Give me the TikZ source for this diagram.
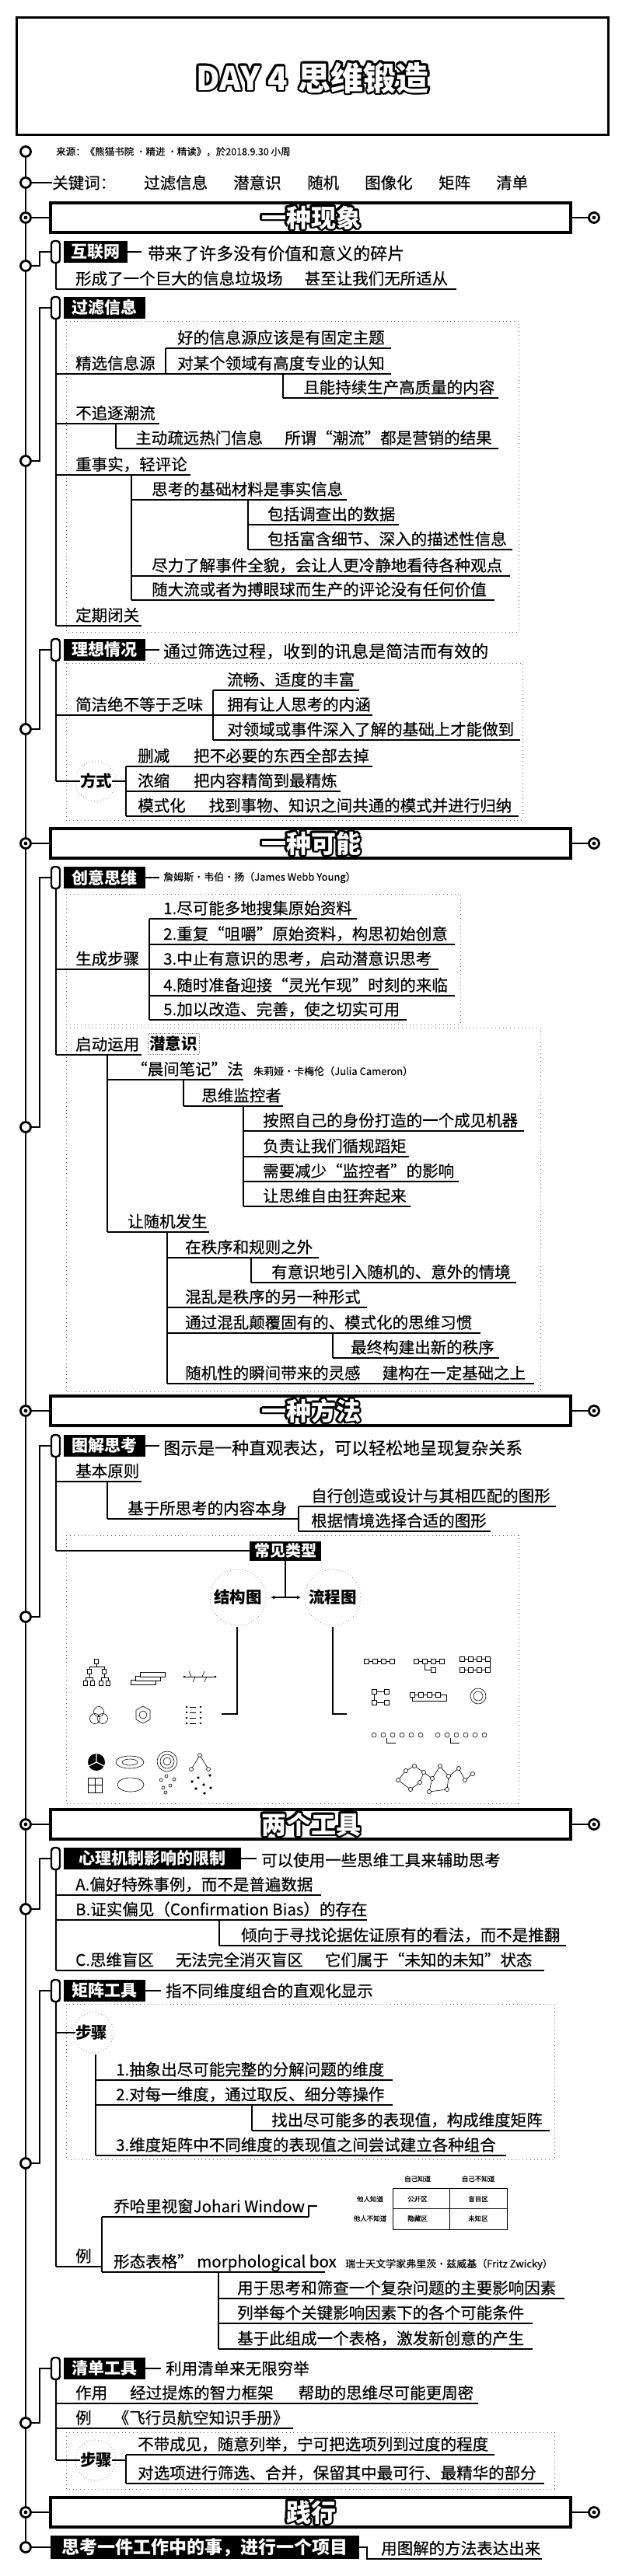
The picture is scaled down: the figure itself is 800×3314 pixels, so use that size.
\documentclass[tikz,border=0pt]{standalone}
\usepackage{fontspec}
\setmainfont{Noto Sans CJK SC}[UprightFeatures={FakeBold=0.35}]
\usetikzlibrary{arrows.meta}
\newcommand\myfs[1]{\fontsize{#1}{#1}\selectfont}
\tikzset{
 txt/.style={anchor=base west,inner sep=0pt,font=\myfs{20.5}},
 btxt/.style={anchor=west,inner sep=0pt,font=\myfs{20.5}\bfseries},
 ln/.style={line width=1.8pt},
 hw/.style={anchor=west,inner sep=0pt,font=\myfs{22}},
 small/.style={anchor=west,inner sep=0pt,font=\myfs{12.5}},
 tiny/.style={inner sep=0pt,font=\myfs{8.5}},
 topic/.style={fill=black,text=white,font=\myfs{21}\bfseries,inner sep=0pt,minimum height=28pt,anchor=west},
 capsule/.style={draw,line width=2.4pt,rounded corners=4pt},
 ring/.style={draw,line width=2.8pt,fill=white,circle,minimum size=13pt,inner sep=0pt},
 bnd/.style={draw=black!55,line width=0.8pt,dash pattern=on 0.8pt off 4pt},
 dcirc/.style={draw=black!45,line width=0.8pt,dash pattern=on 0.8pt off 3pt},
 ill/.style={line width=0.6pt},
}
\newcommand\ut[6]{\node[txt] (#1) at (#2,#5-6) {#6};\draw[ln] (#3,#5) -- (#4,#5);}
\newcommand\vl[3]{\draw[ln] (#1,#2) -- (#1,#3);}
\newcommand\bubble[5]{\foreach \a in {0,30,...,330}{\node[inner sep=0pt,font=#4,text=black] at ([shift={(\a:2.6pt)}]#2,#3) {#5};}\node[inner sep=0pt,font=#4,text=white] (#1) at (#2,#3) {#5};}
\newcommand\topicbox[4]{\draw[capsule] (66,#2-14) rectangle (77,#2+14);\node[topic,minimum width={#3-82}] (#1) at (82,#2) {#4};}
\newcommand\conn[3]{\draw[ln] (33,#2) -- (51,#2) -- (51,#3) -- (66,#3);\node[ring] (#1) at (33,#2) {};}
\newcommand\header[3]{%
 \draw[line width=3.2pt] (65,#2-19) rectangle (734,#2+19);
 \draw[ln] (33,#2) -- (65,#2); \draw[ln] (734,#2) -- (764,#2);
 \node[ring] (#1L) at (33,#2) {}; \fill (33,#2) circle (2.4pt);
 \node[ring] (#1R) at (764,#2) {}; \fill (764,#2) circle (2.4pt);
 \bubble{#1}{400}{#2}{\myfs{32}\bfseries}{#3}}
\begin{document}
\begin{tikzpicture}[x=1pt,y=-1pt]
\useasboundingbox (0,0) rectangle (800,3314);
\fill[white] (0,0) rectangle (800,3314);
% title
\draw[line width=3pt] (21.5,22) rectangle (782,173);
\bubble{title}{402}{100}{\myfs{42}\bfseries}{DAY 4\hspace{14pt}思维锻造}
% main line
\draw[line width=2.6pt] (33,195) -- (33,3277);
% source
\node[ring] (c0) at (33,195) {};
\node[small] (src) at (72,195) {来源：《熊猫书院 ·精进 ·精读》，於2018.9.30 小周};
% keywords
\node[ring] (c1) at (33,235) {};
\node[anchor=west,inner sep=0pt,font=\myfs{20.5}] (kw) at (67,235) {关键词：};
\draw[ln] (c1.east) -- (kw.west);
\node[anchor=west,inner sep=0pt,font=\myfs{20.5}] (k1) at (185,235) {过滤信息};
\node[anchor=west,inner sep=0pt,font=\myfs{20.5}] (k2) at (300,235) {潜意识};
\node[anchor=west,inner sep=0pt,font=\myfs{20.5}] (k3) at (395,235) {随机};
\node[anchor=west,inner sep=0pt,font=\myfs{20.5}] (k4) at (469,235) {图像化};
\node[anchor=west,inner sep=0pt,font=\myfs{20.5}] (k5) at (564,235) {矩阵};
\node[anchor=west,inner sep=0pt,font=\myfs{20.5}] (k6) at (638,235) {清单};

%================ 一种现象
\header{h1}{280}{一种现象}
% 互联网
\conn{t1c}{342}{324}
\topicbox{t1}{324}{164}{互联网}
\node[hw] (t1n) at (190,326) {带来了许多没有价值和意义的碎片};
\draw[ln] (t1.east) -- (182,324);
\vl{72}{338}{372}
\ut{i1}{97}{72}{587}{372}{形成了一个巨大的信息垃圾场\hspace{28pt}甚至让我们无所适从}
% 过滤信息
\draw[bnd] (85,413) rectangle (667,813);
\conn{t2c}{593}{396}
\topicbox{t2}{396}{187}{过滤信息}
\vl{72}{410}{805}
\ut{a1}{97}{72}{213}{481}{精选信息源}
\vl{213}{448}{481}
\ut{a11}{228}{213}{503}{448}{好的信息源应该是有固定主题}
\ut{a12}{228}{213}{503}{481}{对某个领域有高度专业的认知}
\vl{364}{481}{512}
\ut{a13}{390}{364}{641}{512}{且能持续生产高质量的内容}
\ut{a2}{97}{72}{205}{545}{不追逐潮流}
\vl{149}{545}{577}
\ut{a21}{174}{149}{641}{577}{主动疏远热门信息\hspace{28pt}所谓“潮流”都是营销的结果}
\ut{a3}{97}{72}{245}{611}{重事实，轻评论}
\vl{169}{611}{772}
\ut{a31}{195}{169}{446}{643}{思考的基础材料是事实信息}
\vl{319}{643}{707}
\ut{a311}{344}{319}{513}{675}{包括调查出的数据}
\ut{a312}{344}{319}{659}{707}{包括富含细节、深入的描述性信息}
\ut{a32}{195}{169}{656}{741}{尽力了解事件全貌，会让人更冷静地看待各种观点}
\ut{a33}{195}{169}{636}{772}{随大流或者为搏眼球而生产的评论没有任何价值}
\ut{a4}{97}{72}{182}{805}{定期闭关}
% 理想情况
\draw[bnd] (85,853) rectangle (672,1055);
\conn{t3c}{938}{836}
\topicbox{t3}{836}{187}{理想情况}
\draw[ln] (t3.east) -- (205,836);
\node[hw] (t3n) at (210,838) {通过筛选过程，收到的讯息是简洁而有效的};
\vl{72}{850}{1005}
\ut{b1}{97}{72}{274}{920}{简洁绝不等于乏味}
\vl{274}{888}{952}
\ut{b11}{292}{274}{462}{888}{流畅、适度的丰富}
\ut{b12}{292}{274}{479}{920}{拥有让人思考的内涵}
\ut{b13}{292}{274}{669}{952}{对领域或事件深入了解的基础上才能做到}
\draw[dcirc] (123,1005) circle (26);
\node[btxt] (b2) at (103,1005) {方式};
\draw[ln] (72,1005) -- (b2.west);
\draw[ln] (b2.east) -- (162,1005);
\vl{162}{986}{1050}
\ut{b21}{177}{162}{479}{986}{删减\hspace{31pt}把不必要的东西全部去掉}
\ut{b22}{177}{162}{438}{1018}{浓缩\hspace{31pt}把内容精简到最精炼}
\ut{b23}{177}{162}{667}{1050}{模式化\hspace{30pt}找到事物、知识之间共通的模式并进行归纳}

%================ 一种可能
\header{h2}{1085}{一种可能}
\draw[bnd] (85,1150) rectangle (592,1318);
\draw[bnd] (85,1322) rectangle (695,1790);
\conn{t4c}{1450}{1129}
\topicbox{t4}{1129}{187}{创意思维}
\draw[ln] (t4.east) -- (205,1129);
\node[small,font=\myfs{13}] (t4n) at (210,1129) {詹姆斯·韦伯·扬（James Webb Young）};
\vl{72}{1143}{1357}
\ut{c1}{97}{72}{192}{1247}{生成步骤}
\vl{192}{1182}{1312}
\ut{c11}{210}{192}{459}{1182}{1.尽可能多地搜集原始资料}
\ut{c12}{210}{192}{585}{1215}{2.重复“咀嚼”原始资料，构思初始创意}
\ut{c13}{210}{192}{564}{1247}{3.中止有意识的思考，启动潜意识思考}
\ut{c14}{210}{192}{585}{1281}{4.随时准备迎接“灵光乍现”时刻的来临}
\ut{c15}{210}{192}{523}{1312}{5.加以改造、完善，使之切实可用}
\ut{c2}{97}{72}{182}{1357}{启动运用}
\node[draw=black!60,dotted,anchor=west,inner sep=2pt,font=\myfs{20.5}\bfseries,minimum height=27pt] (c2q) at (190,1343) {潜意识};
\vl{138}{1357}{1585}
\ut{c21}{169}{138}{313}{1389}{“晨间笔记”法}
\node[small,font=\myfs{13}] (c21n) at (326,1378) {朱莉娅·卡梅伦（Julia Cameron）};
\vl{236}{1389}{1423}
\ut{c211}{259}{236}{364}{1423}{思维监控者}
\vl{313}{1423}{1552}
\ut{c2111}{338}{313}{674}{1455}{按照自己的身份打造的一个成见机器}
\ut{c2112}{338}{313}{526}{1488}{负责让我们循规蹈矩}
\ut{c2113}{338}{313}{590}{1520}{需要减少“监控者”的影响}
\ut{c2114}{338}{313}{528}{1552}{让思维自由狂奔起来}
\ut{c22}{164}{138}{269}{1585}{让随机发生}
\vl{215}{1585}{1780}
\ut{c221}{238}{215}{410}{1618}{在秩序和规则之外}
\vl{323}{1618}{1650}
\ut{c2211}{349}{323}{664}{1650}{有意识地引入随机的、意外的情境}
\ut{c222}{238}{215}{472}{1682}{混乱是秩序的另一种形式}
\ut{c223}{238}{215}{618}{1715}{通过混乱颠覆固有的、模式化的思维习惯}
\vl{428}{1715}{1747}
\ut{c2231}{451}{428}{642}{1747}{最终构建出新的秩序}
\ut{c224}{238}{215}{687}{1780}{随机性的瞬间带来的灵感\hspace{28pt}建构在一定基础之上}

%================ 一种方法
\header{h3}{1815}{一种方法}
\draw[bnd] (85,1975) rectangle (667,2320);
\conn{t5c}{2080}{1860}
\topicbox{t5}{1860}{187}{图解思考}
\draw[ln] (t5.east) -- (205,1860);
\node[hw] (t5n) at (210,1863) {图示是一种直观表达，可以轻松地呈现复杂关系};
\vl{72}{1875}{1995}
\ut{d1}{97}{72}{182}{1906}{基本原则}
\vl{138}{1906}{1954}
\ut{d11}{164}{138}{384}{1954}{基于所思考的内容本身}
\vl{384}{1938}{1970}
\ut{d111}{400}{384}{715}{1938}{自行创造或设计与其相匹配的图形}
\ut{d112}{400}{384}{631}{1970}{根据情境选择合适的图形}
\node[fill=black,text=white,font=\myfs{20}\bfseries,minimum width=92pt,minimum height=25pt,inner sep=0pt,anchor=west] (cj) at (321,1995) {常见类型};
\draw[ln] (72,1995) -- (cj.west);
\draw[dcirc] (306,2055) circle (36);
\draw[dcirc] (428,2055) circle (36);
\node[inner xsep=11pt,inner ysep=0pt,font=\myfs{20.5}\bfseries] (jg) at (306,2055) {结构图};
\node[inner xsep=10pt,inner ysep=0pt,font=\myfs{20.5}\bfseries] (lc) at (428,2055) {流程图};
\draw[ln,{Latex[length=5pt,width=5pt]}-{Latex[length=5pt,width=5pt]}] (jg.east) -- (lc.west);
\draw[ln] (cj.south) -- (cj.south |- jg.east);
\coordinate (jgp) at (285,2205);
\coordinate (lcp) at (446,2205);
\draw[ln] (305,2093) -- (305,2205) -- (jgp);
\draw[ln] (428,2093) -- (428,2205) -- (lcp);
% left illustrations (structure diagrams)
\begin{scope}[ill]
\draw (124,2137)--(124,2144) (115,2144)--(134,2144) (115,2144)--(115,2150) (134,2144)--(134,2150)
 (115,2150)--(115,2158) (110,2158)--(119,2158) (110,2158)--(110,2165) (119,2158)--(119,2165)
 (134,2150)--(134,2158) (130,2158)--(139,2158) (130,2158)--(130,2165) (139,2158)--(139,2165);
\foreach \x/\y in {124/2137,115/2150,134/2150,110/2165,119/2165,130/2165,139/2165}
 \draw[fill=white] (\x-2.5,\y-3) rectangle (\x+2.5,\y+3);
\foreach \i in {0,1,2} \draw[fill=white] (168+6*\i,2161-5*\i) rectangle (200+6*\i,2167-5*\i);
\draw (237,2157)--(277,2157); \fill (237,2157) circle (1.5) (277,2157) circle (1.5);
\draw (246,2157)--(243,2150) (260,2157)--(263,2150) (251,2157)--(248,2164) (266,2157)--(263,2164);
\draw (127,2202) circle (6.5) (122,2211) circle (6.5) (132,2211) circle (6.5);
\draw (184,2195)--(193,2200)--(193,2212)--(184,2217)--(175,2212)--(175,2200)--cycle; \draw (184,2206) circle (5);
\foreach \y in {2196,2203,2210,2217} {\fill (240,\y) circle (1.3); \draw (244,\y)--(252,\y); \fill (258,\y) circle (1.3);}
\fill (124,2267) circle (11); \draw[white,line width=1.2pt] (124,2267)--(124,2256) (124,2267)--(134,2272) (124,2267)--(114,2272);
\draw (167,2267) ellipse (18 and 8) (167,2267) ellipse (10 and 4);
\draw (215,2266) circle (13) (215,2266) circle (9) (215,2266) circle (5);
\draw (246,2276)--(257,2258)--(268,2276);
\foreach \x/\y in {257/2258,246/2276,268/2276} \draw[fill=white] (\x,\y) circle (2.5);
\draw (113,2287) rectangle (131,2306) (122,2287)--(122,2306) (113,2296)--(131,2296);
\draw (168,2296) ellipse (17 and 9);
\foreach \x/\y in {207/2290,214/2285,210/2300,219/2297,224/2289,213/2306} \draw (\x,\y) circle (2);
\foreach \x/\y in {247/2292,255/2287,262/2296,270/2284,271/2300,252/2301,263/2307} \fill (\x,\y) circle (1.8);
\end{scope}
% right illustrations (flow diagrams)
\begin{scope}[ill]
\draw (469,2137)--(507,2137);
\foreach \x in {471,482,493,504} \draw[fill=white] (\x-3,2134) rectangle (\x+3,2140);
\draw (533,2137)--(571,2137) (546,2140)--(546,2148)--(557,2148);
\foreach \x in {535,546,557,568} \draw[fill=white] (\x-3,2134) rectangle (\x+3,2140);
\draw[fill=white] (554,2145) rectangle (560,2151);
\draw (592,2134)--(630,2134)--(630,2148)--(592,2148);
\foreach \x in {594,605,616,627} {\draw[fill=white] (\x-3,2131) rectangle (\x+3,2137); \draw[fill=white] (\x-3,2145) rectangle (\x+3,2151);}
\draw (481,2176)--(497,2176) (481,2176)--(481,2190)--(497,2190);
\foreach \x/\y in {481/2176,497/2176,481/2190,497/2190} \draw[fill=white] (\x-3,\y-3) rectangle (\x+3,\y+3);
\draw (530,2180)--(566,2180) (530,2183)--(530,2188)--(574,2188)--(574,2180)--(566,2180);
\foreach \x in {530,541,552,563} \draw[fill=white] (\x-3,2177) rectangle (\x+3,2183);
\draw (615,2182) circle (10) (615,2182) circle (6);
\foreach \x in {481,493,505,517,529,541} \draw (\x,2232) circle (3);
\foreach \x in {563,575,587,599,611,623} \draw (\x,2232) circle (3);
\draw (497,2236)--(497,2242)--(509,2242) (579,2236)--(579,2242)--(591,2242);
\draw (512,2290)--(522,2278)--(533,2272)--(545,2280)--(540,2293)--(528,2302)--(512,2290)
 (545,2280)--(556,2288)--(566,2272)--(577,2285)--(590,2275)--(598,2290)--(608,2282)
 (556,2288)--(552,2305)--(575,2302)--(577,2285);
\foreach \x/\y in {512/2290,522/2278,533/2272,545/2280,540/2293,556/2288,566/2272,577/2285,590/2275,598/2290,608/2282,528/2302,552/2305,575/2302}
 \draw[fill=white] (\x,\y) circle (2.6);
\end{scope}

%================ 两个工具
\header{h4}{2347}{两个工具}
\conn{t6c}{2456}{2391}
\topicbox{t6}{2391}{310}{心理机制影响的限制}
\draw[ln] (t6.east) -- (330,2391);
\node[anchor=west,inner sep=0pt,font=\myfs{20.5}] (t6n) at (336,2393) {可以使用一些思维工具来辅助思考};
\vl{72}{2405}{2535}
\ut{e1}{97}{72}{413}{2438}{A.偏好特殊事例，而不是普遍数据}
\ut{e2}{97}{72}{472}{2470}{B.证实偏见（Confirmation Bias）的存在}
\vl{282}{2470}{2503}
\ut{e21}{310}{282}{728}{2503}{倾向于寻找论据佐证原有的看法，而不是推翻}
\ut{e3}{97}{72}{700}{2535}{C.思维盲区\hspace{28pt}无法完全消灭盲区\hspace{28pt}它们属于“未知的未知”状态}
% 矩阵工具
\draw[bnd] (85,2578) rectangle (713,2778);
\conn{t7c}{2783}{2561}
\topicbox{t7}{2561}{187}{矩阵工具}
\draw[ln] (t7.east) -- (207,2561);
\node[anchor=west,inner sep=0pt,font=\myfs{20.5}] (t7n) at (213,2561) {指不同维度组合的直观化显示};
\vl{72}{2575}{2916}
\draw[dcirc] (120,2615) circle (26);
\node[btxt] (f1) at (97,2615) {步骤};
\draw[ln] (72,2615) -- (f1.west);
\vl{123}{2643}{2773}
\ut{f11}{149}{123}{505}{2676}{1.抽象出尽可能完整的分解问题的维度}
\ut{f12}{149}{123}{505}{2708}{2.对每一维度，通过取反、细分等操作}
\vl{324}{2708}{2741}
\ut{f121}{349}{324}{707}{2741}{找出尽可能多的表现值，构成维度矩阵}
\ut{f13}{149}{123}{651}{2773}{3.维度矩阵中不同维度的表现值之间尝试建立各种组合}
\ut{f2}{97}{72}{131}{2916}{例}
\vl{131}{2852}{2923}
\ut{f21}{146}{131}{397}{2852}{乔哈里视窗Johari Window}
\draw[ln] (397,2852) -- (397,2838) -- (408,2838);
\draw[line width=0.8pt] (505,2815) rectangle (652,2868) (578,2815)--(578,2868) (505,2841)--(652,2841);
\node[tiny] (jw1) at (537,2803) {自己知道};
\node[tiny] (jw2) at (615,2803) {自己不知道};
\node[tiny] (jw3) at (476,2829) {他人知道};
\node[tiny] (jw4) at (476,2854) {他人不知道};
\node[tiny] (jw5) at (537,2829) {公开区};
\node[tiny] (jw6) at (615,2829) {盲目区};
\node[tiny] (jw7) at (537,2854) {隐藏区};
\node[tiny] (jw8) at (615,2854) {未知区};
\ut{f22}{146}{131}{418}{2923}{形态表格” morphological box}
\node[small,font=\myfs{13}] (f22n) at (444,2913) {瑞士天文学家弗里茨·兹威基（Fritz Zwicky）};
\vl{281}{2923}{3022}
\ut{f221}{305}{281}{726}{2957}{用于思考和筛查一个复杂问题的主要影响因素}
\ut{f222}{305}{281}{685}{2989}{列举每个关键影响因素下的各个可能条件}
\ut{f223}{305}{281}{685}{3022}{基于此组成一个表格，激发新创意的产生}
% 清单工具
\draw[bnd] (85,3129) rectangle (713,3202);
\conn{t8c}{3117}{3047}
\topicbox{t8}{3047}{187}{清单工具}
\draw[ln] (t8.east) -- (207,3047);
\node[anchor=west,inner sep=0pt,font=\myfs{20.5}] (t8n) at (213,3047) {利用清单来无限穷举};
\vl{72}{3062}{3165}
\ut{g1}{97}{72}{615}{3092}{作用\hspace{29pt}经过提炼的智力框架\hspace{32pt}帮助的思维尽可能更周密}
\ut{g2}{97}{72}{377}{3124}{例\hspace{28pt}《飞行员航空知识手册》}
\draw[dcirc] (123,3165) circle (26);
\node[btxt] (g3) at (103,3165) {步骤};
\draw[ln] (72,3165) -- (g3.west);
\draw[ln] (g3.east) -- (162,3165);
\vl{162}{3158}{3195}
\ut{g31}{177}{162}{636}{3158}{不带成见，随意列举，宁可把选项列到过度的程度}
\ut{g32}{177}{162}{700}{3195}{对选项进行筛选、合并，保留其中最可行、最精华的部分}

%================ 践行
\header{h5}{3232}{践行}
\node[fill=black,text=white,font=\myfs{23}\bfseries,minimum width=397pt,minimum height=30pt,inner sep=0pt,anchor=west] (prj) at (65,3277) {思考一件工作中的事，进行一个项目};
\node[ring] (c9) at (33,3277) {};
\draw[ln] (c9.east) -- (prj.west);
\node[txt] (prjn) at (490,3286) {用图解的方法表达出来};
\draw[ln] (prj.east) -- (472,3277) -- (472,3292) -- (697,3292);
\end{tikzpicture}
\end{document}
